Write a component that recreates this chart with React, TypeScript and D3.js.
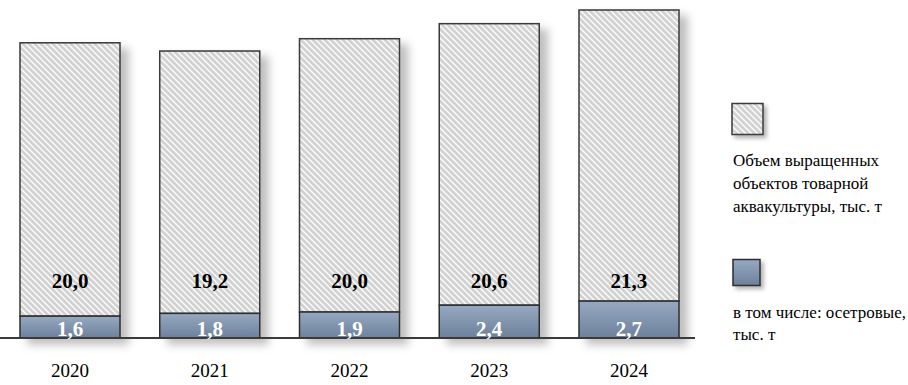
import React from "react";
import * as d3 from "d3";

const years = ["2020", "2021", "2022", "2023", "2024"];
const totalValues = [20.0, 19.2, 20.0, 20.6, 21.3];
const sturgeonValues = [1.6, 1.8, 1.9, 2.4, 2.7];
const legendTotal = ["Объем выращенных", "объектов товарной", "аквакультуры, тыс. т"];
const legendSturgeon = ["в том числе: осетровые,", "тыс. т"];

const W = 908;
const H = 385;
const fmt = (v: number) => v.toFixed(1).replace(".", ",");
const serif = "\"Liberation Serif\", \"DejaVu Serif\", serif";

export default function App() {
  const x = d3.scaleBand<string>().domain(years).range([20, 679]).paddingInner(0.2844).paddingOuter(0);
  const y = d3.scaleLinear().domain([0, 24]).range([338, 10]);
  const bw = x.bandwidth();
  const ts = { fontFamily: serif };

  return (
    <svg width={W} height={H} style={{ position: "absolute", left: 0, top: 0, background: "#fff" }}>
      <defs>
        <pattern id="hatch" patternUnits="userSpaceOnUse" width={6} height={6}>
          <rect width={6} height={6} fill="#d2d2d2" />
          <path d="M0,0 L6,6 M-1,5 L1,7 M5,-1 L7,1" stroke="#ffffff" strokeWidth={1.3} />
        </pattern>
        <linearGradient id="blue" x1="0" y1="0" x2="0" y2="1">
          <stop offset="0%" stopColor="#97a9c0" />
          <stop offset="100%" stopColor="#6c819d" />
        </linearGradient>
        <filter id="shadow" x="-20%" y="-10%" width="150%" height="130%">
          <feDropShadow dx={8} dy={6} stdDeviation={4} floodColor="#000" floodOpacity={0.25} />
        </filter>
        <filter id="shadowSmall" x="-30%" y="-30%" width="180%" height="180%">
          <feDropShadow dx={3} dy={3} stdDeviation={2} floodColor="#000" floodOpacity={0.3} />
        </filter>
      </defs>

      <g>
        {years.map((yr, i) => {
          const x0 = x(yr)!;
          const base = y(0);
          const blueTop = y(sturgeonValues[i]);
          const grayTop = y(sturgeonValues[i] + totalValues[i]);
          return (
            <g key={yr} filter="url(#shadow)">
              <rect x={x0} y={grayTop} width={bw} height={blueTop - grayTop} fill="url(#hatch)" stroke="#3a3a3a" strokeWidth={1.5} />
              <rect x={x0} y={blueTop} width={bw} height={base - blueTop} fill="url(#blue)" stroke="#2e2e2e" strokeWidth={1.5} />
            </g>
          );
        })}
      </g>

      <line x1={0} x2={695} y1={y(0)} y2={y(0)} stroke="#3a3a3a" strokeWidth={2} />

      {years.map((yr, i) => {
        const cx = x(yr)! + bw / 2;
        return (
          <g key={"lbl" + yr}>
            <text x={cx} y={y(3.65)} textAnchor="middle" fontSize={21} fontWeight="bold" fill="#000" style={ts}>
              {fmt(totalValues[i])}
            </text>
            <text x={cx} y={y(0.15)} textAnchor="middle" fontSize={21} fontWeight="bold" fill="#fff" style={ts}>
              {fmt(sturgeonValues[i])}
            </text>
            <text x={cx} y={377} textAnchor="middle" fontSize={19} fill="#000" style={ts}>
              {yr}
            </text>
          </g>
        );
      })}

      <g>
        <rect x={732} y={103.5} width={31} height={31} fill="url(#hatch)" stroke="#3a3a3a" strokeWidth={1.5} filter="url(#shadowSmall)" />
        {legendTotal.map((t, i) => (
          <text key={t} x={733} y={166 + i * 23} fontSize={17} fill="#000" style={ts}>
            {t}
          </text>
        ))}
        <rect x={733} y={259.5} width={27} height={26} fill="url(#blue)" stroke="#2e2e2e" strokeWidth={1.5} filter="url(#shadowSmall)" />
        {legendSturgeon.map((t, i) => (
          <text key={t} x={733} y={318 + i * 22} fontSize={17} fill="#000" style={ts}>
            {t}
          </text>
        ))}
      </g>
    </svg>
  );
}
